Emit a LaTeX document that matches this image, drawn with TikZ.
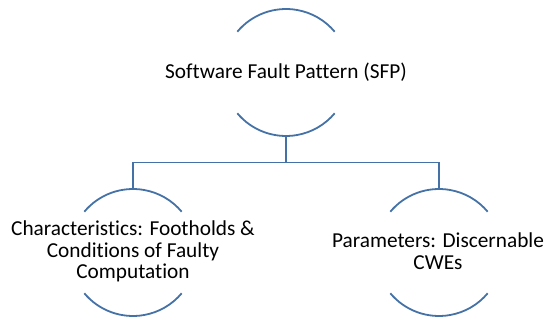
\documentclass[tikz,border=0pt]{standalone}
\usepackage{fontspec}
\setmainfont{Carlito}[Ligatures={NoCommon}]
\definecolor{arcblue}{RGB}{68,114,166}
\begin{document}
\begin{tikzpicture}[x=1pt,y=-1pt,
  arcline/.style={draw=arcblue,line width=1.8pt},
  link/.style={draw=arcblue,line width=1.8pt},
  label/.style={align=center,font=\fontsize{21.3}{21.5}\selectfont,inner sep=0pt}]
\useasboundingbox (0,0) rectangle (546,320);
% circle centres, radius 63.5
\coordinate (c0) at (286,72.5);
\coordinate (c1) at (133,252.5);
\coordinate (c2) at (439,252.5);
% open circles: an upper and a lower arc each
\foreach \c in {c0,c1,c2}{
  \draw[arcline] (\c) ++(140:63.5) arc[start angle=140,end angle=40,radius=63.5];
  \draw[arcline] (\c) ++(220:63.5) arc[start angle=220,end angle=320,radius=63.5];
}
\coordinate (t0b) at (286,136);
\coordinate (t1t) at (133,189);
\coordinate (t2t) at (439,189);
\coordinate (bus) at (286,162.5);
\node[label] (sfp) at (c0) {Software Fault Pattern (SFP)};
\node[label] (chr) at (133,251.5) {Characteristics: Footholds \&\\Conditions of Faulty\\Computation};
\node[label] (par) at (438,251) {Parameters: Discernable\\CWEs};
\draw[link] (t0b) -- (bus);
\draw[link] (t1t) |- (bus) -| (t2t);
\end{tikzpicture}
\end{document}
